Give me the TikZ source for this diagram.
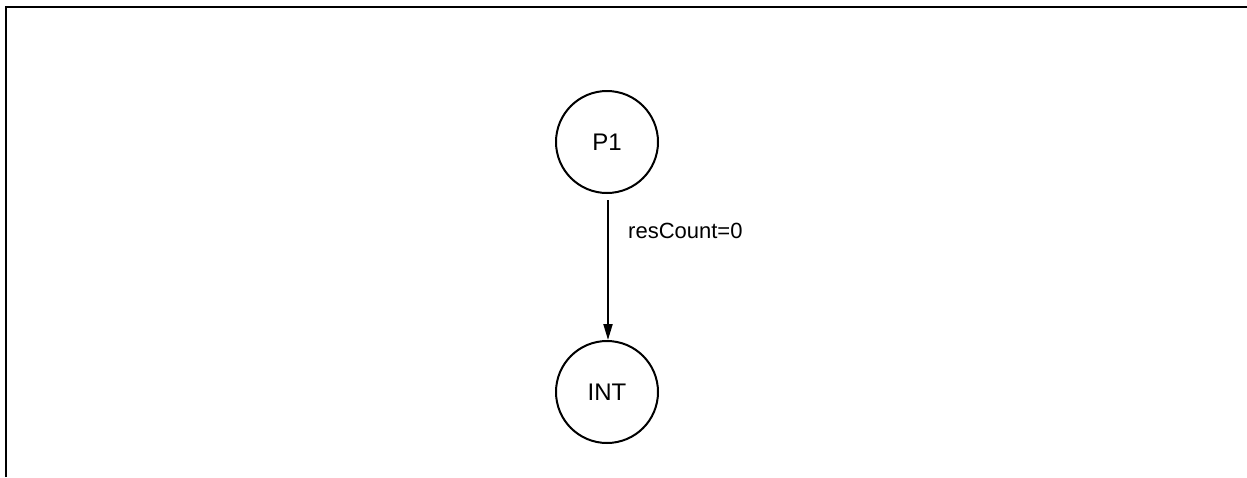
\documentclass[tikz,border=0pt]{standalone}
\usepackage{fontspec}
\setmainfont{Liberation Sans}
\usetikzlibrary{arrows.meta}
\begin{document}
\begin{tikzpicture}[x=1pt,y=-1pt,
  state/.style={circle,draw,line width=2pt,minimum size=102pt,inner sep=0pt,font=\fontsize{24}{28}\selectfont},
  edgelabel/.style={font=\fontsize{22}{26}\selectfont,anchor=west,inner sep=0pt},
  trans/.style={line width=2pt,-{Triangle[length=16pt,width=9pt]}}]
\useasboundingbox (0,0) rectangle (1247,477);
\draw[line width=2.2pt] (6,477) -- (6,7) -- (1247,7);
\node[state] (p1) at (607,142) {P1};
\node[state] (int) at (607,392) {INT};
\coordinate (s) at (608,200);
\draw[trans] (s) -- (s |- int.north);
\node[edgelabel] (lbl) at (628,231) {resCount=0};
\end{tikzpicture}
\end{document}
